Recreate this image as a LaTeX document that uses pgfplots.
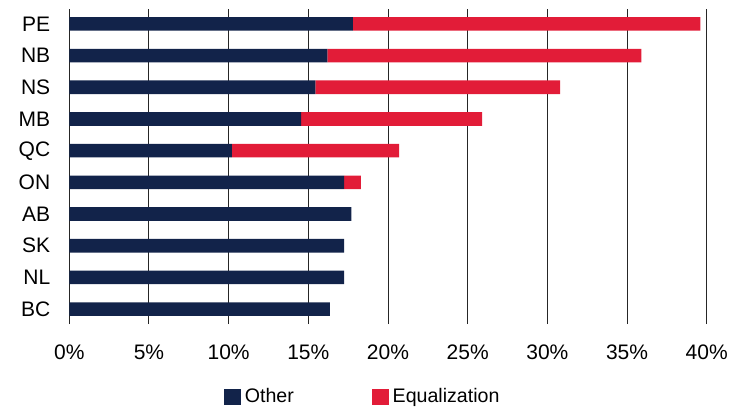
\documentclass[border=0pt]{standalone}
\usepackage{fontspec}
\setmainfont{Liberation Sans}
\usepackage{pgfplots}
\pgfplotsset{compat=1.18}
\definecolor{navy}{HTML}{12234A}
\definecolor{eqred}{HTML}{E21C38}
\begin{document}
\begin{tikzpicture}
\path[use as bounding box] (-34.65pt,-41.5pt) rectangle (337.35pt,162pt);
\begin{axis}[
    at={(0,0)}, anchor=south west,
    scale only axis,
    width=318.7pt, height=157.5pt,
    xbar stacked,
    bar width=6.8pt,
    xmin=0, xmax=40,
    ymin=-0.47, ymax=9.47,
    xtick={0,5,...,40},
    xticklabel={\pgfmathprintnumber{\tick}\%},
    /pgf/number format/assume math mode=true,
    ytick={0,...,9},
    yticklabels={BC,NL,SK,AB,ON,QC,MB,NS,NB,PE},
    major tick length=0pt,
    axis line style={draw=none},
    xmajorgrids,
    major grid style={black!85, line width=0.5pt},
    tick label style={font=\fontsize{10.5}{12}\selectfont},
    x tick label style={yshift=-7pt},
    y tick label style={xshift=-6pt},
    legend style={at={(0.462,-0.232)}, anchor=center, draw=none,
        legend columns=2, font=\fontsize{9.8}{11}\selectfont,
        /tikz/every even column/.append style={column sep=37pt}},
    legend image code/.code={\fill[#1] (0pt,-4.2pt) rectangle (8.4pt,4.2pt);},
]
\addplot[fill=navy, draw=none] coordinates {
    (16.35,0) (17.25,1) (17.25,2) (17.7,3) (17.25,4)
    (10.2,5) (14.55,6) (15.45,7) (16.2,8) (17.8,9)};
\addplot[fill=eqred, draw=none] coordinates {
    (0,0) (0,1) (0,2) (0,3) (1.05,4)
    (10.5,5) (11.35,6) (15.35,7) (19.7,8) (21.8,9)};
\legend{Other, Equalization}
\end{axis}
\end{tikzpicture}
\end{document}
